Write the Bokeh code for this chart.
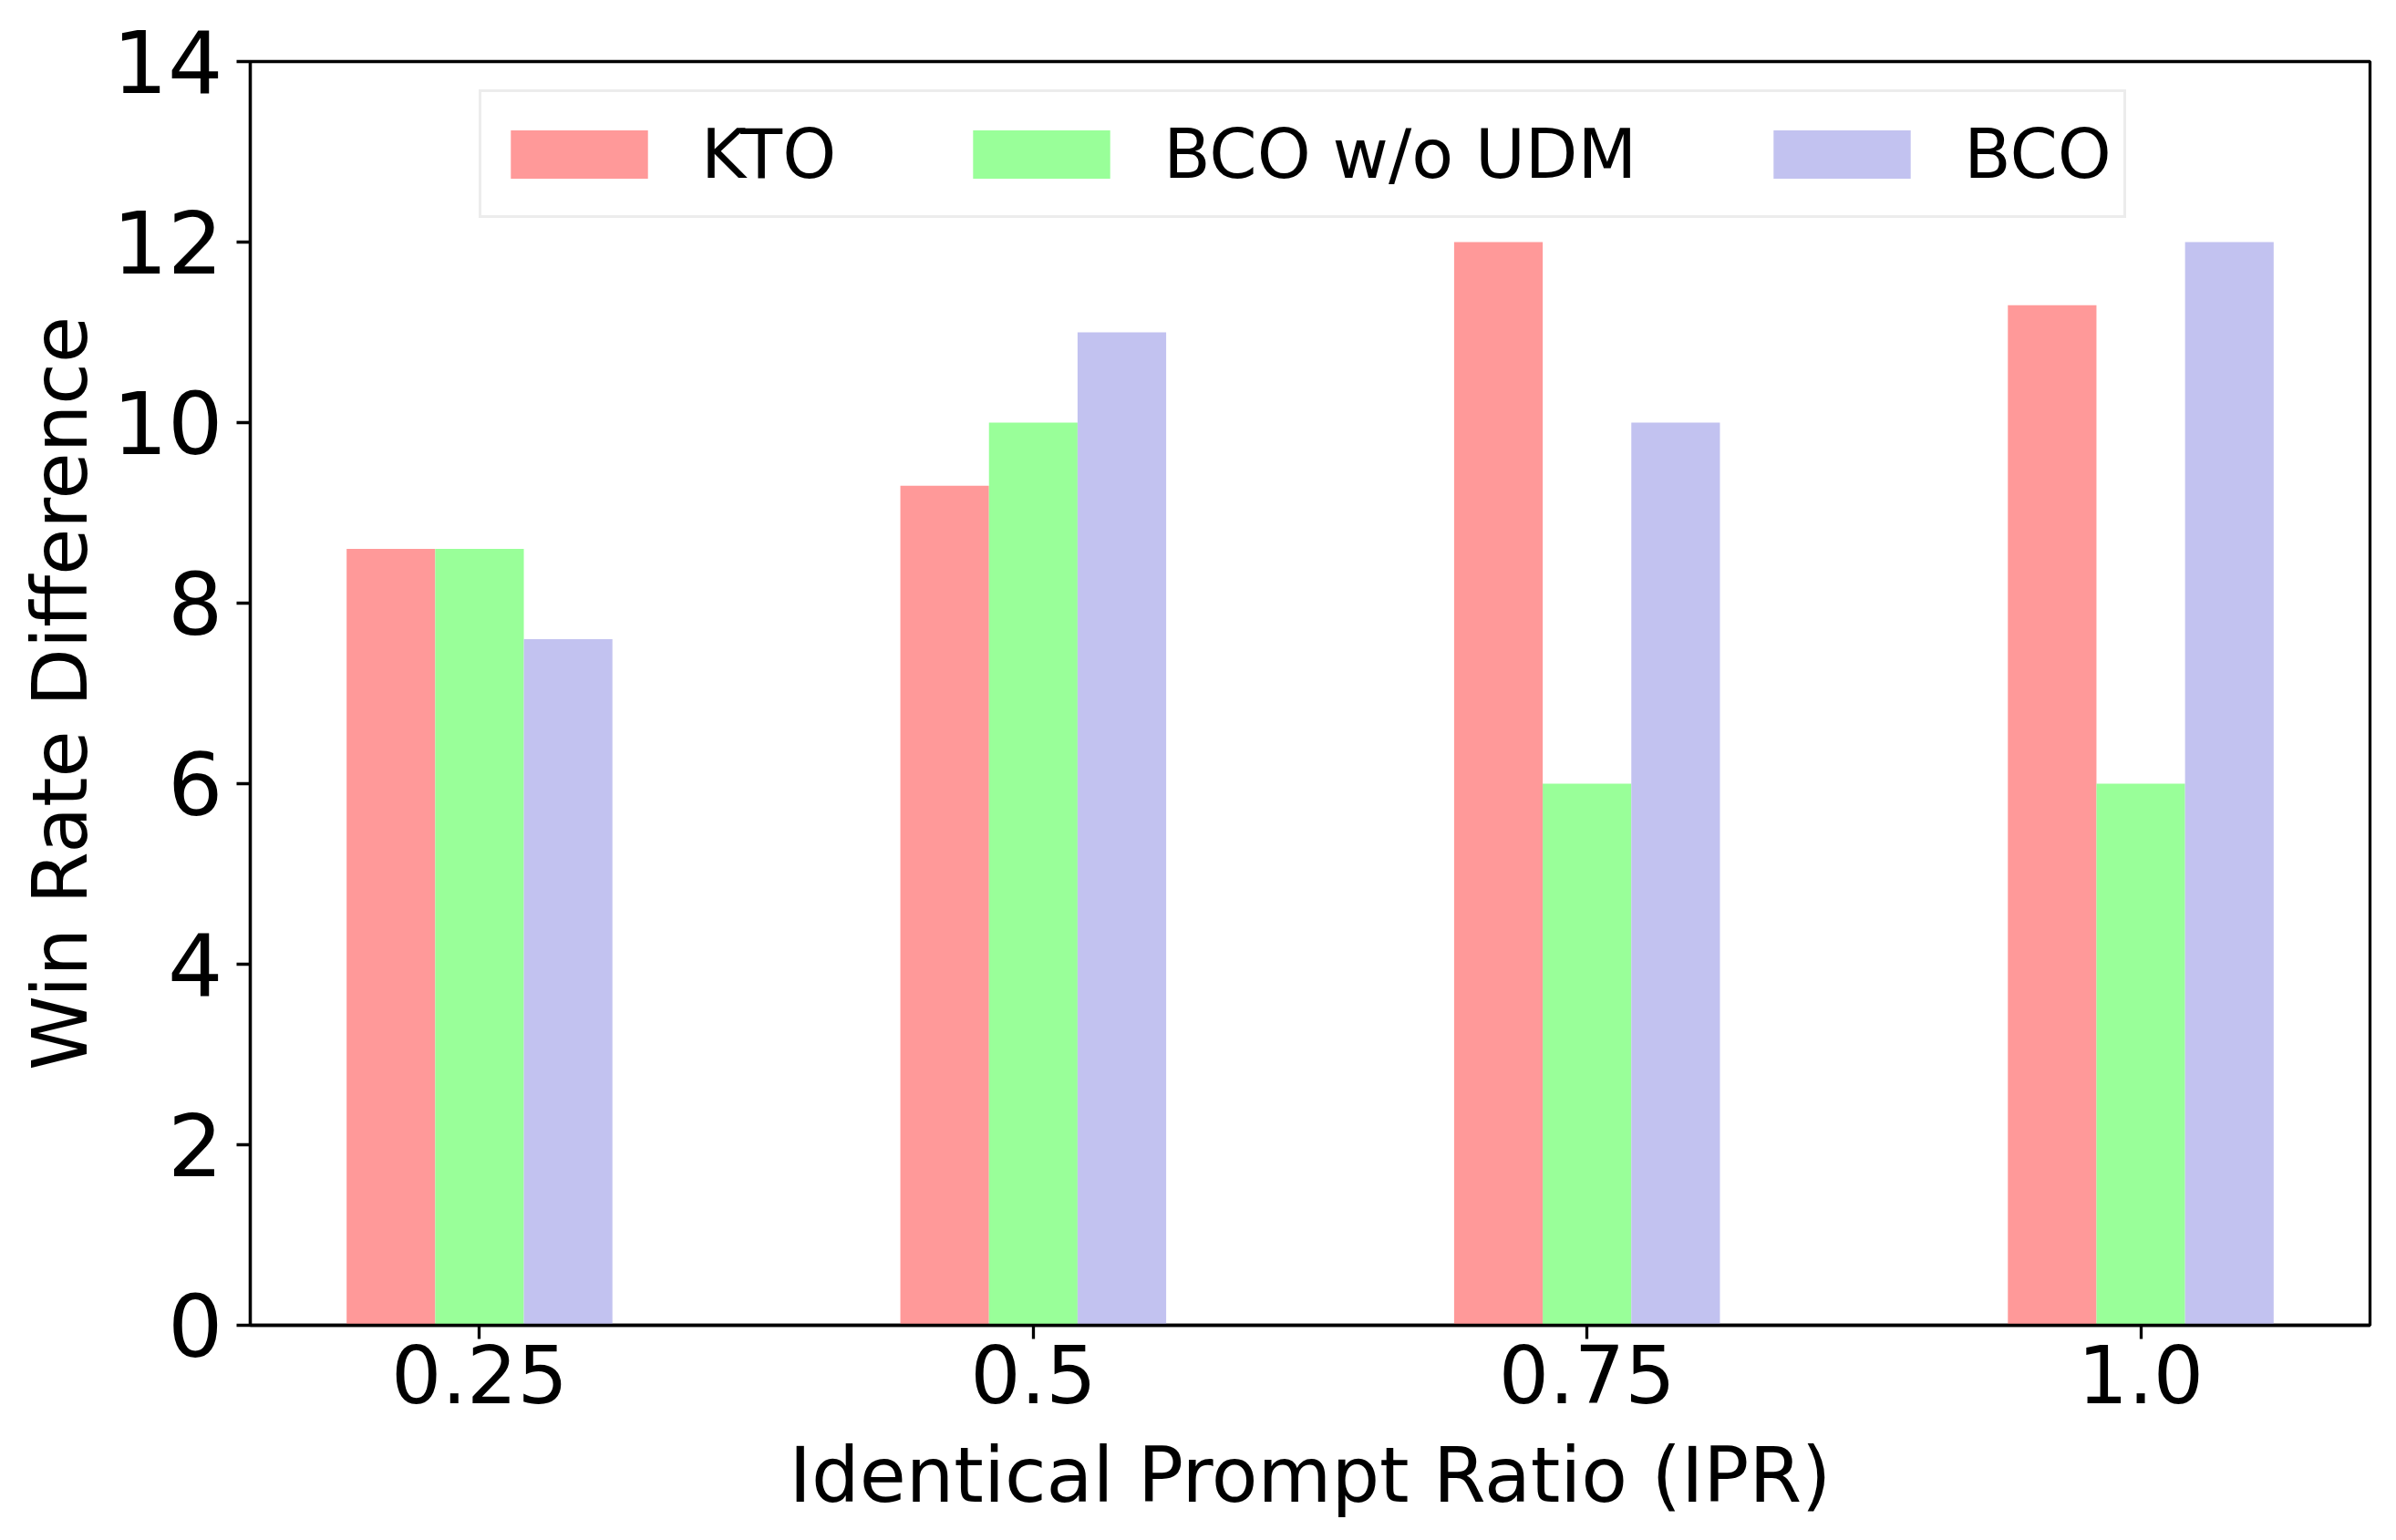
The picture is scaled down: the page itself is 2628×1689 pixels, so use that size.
from bokeh.plotting import figure
from bokeh.models import Range1d, FixedTicker, Legend, LegendItem
from bokeh.embed import file_html
from bokeh.resources import INLINE

# ---- data ----
ipr_labels = ["0.25", "0.5", "0.75", "1.0"]
kto = [8.6, 9.3, 12.0, 11.3]
bco_wo_udm = [8.6, 10.0, 6.0, 6.0]
bco = [7.6, 11.0, 10.0, 12.0]
series_names = ["KTO", "BCO w/o UDM", "BCO"]
series_colors = ["#ff9999", "#99ff99", "#c2c2f0"]
y_ticks = [0, 2, 4, 6, 8, 10, 12, 14]

FONT = "DejaVu Sans"
bar_w = 0.16
idx = list(range(len(ipr_labels)))

p = figure(width=2612, height=1673, output_backend="svg", toolbar_location=None,
           x_range=Range1d(-0.414, 3.414), y_range=Range1d(0, 14),
           min_border_left=274, min_border_right=13, min_border_top=67, min_border_bottom=220)

p.background_fill_color = "white"
p.border_fill_color = "white"
p.xgrid.visible = False
p.ygrid.visible = False
p.outline_line_color = "black"
p.outline_line_width = 3.3

renderers = []
for k, (vals, col) in enumerate(zip([kto, bco_wo_udm, bco], series_colors)):
    xs = [i + (k - 1) * bar_w for i in idx]
    r = p.vbar(x=xs, top=vals, bottom=0, width=bar_w, fill_color=col, line_color=None)
    renderers.append(r)

for ax in (p.xaxis[0], p.yaxis[0]):
    ax.axis_line_width = 3.3
    ax.axis_line_color = "black"
    ax.major_tick_line_width = 3.3
    ax.major_tick_line_color = "black"
    ax.major_tick_out = 15
    ax.major_tick_in = 0
    ax.minor_tick_out = 0
    ax.minor_tick_in = 0
    ax.major_label_text_font = FONT
    ax.major_label_text_color = "black"
    ax.axis_label_text_font = FONT
    ax.axis_label_text_font_size = "83px"
    ax.axis_label_text_font_style = "normal"
    ax.axis_label_text_color = "black"

p.xaxis.ticker = FixedTicker(ticks=idx)
p.xaxis.major_label_overrides = {i: lab for i, lab in zip(idx, ipr_labels)}
p.xaxis.major_label_text_font_size = "87px"
p.xaxis.axis_label = "Identical Prompt Ratio (IPR)"
p.xaxis.major_label_standoff = 6
p.xaxis.axis_label_standoff = 28

p.yaxis.ticker = FixedTicker(ticks=y_ticks)
p.yaxis.major_label_text_font_size = "95px"
p.yaxis.axis_label = "Win Rate Difference"
p.yaxis.major_label_standoff = 15
p.yaxis.axis_label_standoff = 6

legend = Legend(items=[LegendItem(label=n, renderers=[r]) for n, r in zip(series_names, renderers)],
                location=(251, 1214), orientation="horizontal",
                glyph_width=188, glyph_height=66, label_standoff=40, spacing=131,
                label_height=109, padding=13, margin=0,
                label_text_font=FONT, label_text_font_size="75px", label_text_color="black",
                border_line_color="#d9d9d9", border_line_width=3.5,
                background_fill_color="white", background_fill_alpha=1.0)
p.add_layout(legend)

open("out.html", "w").write(file_html(p, INLINE))
